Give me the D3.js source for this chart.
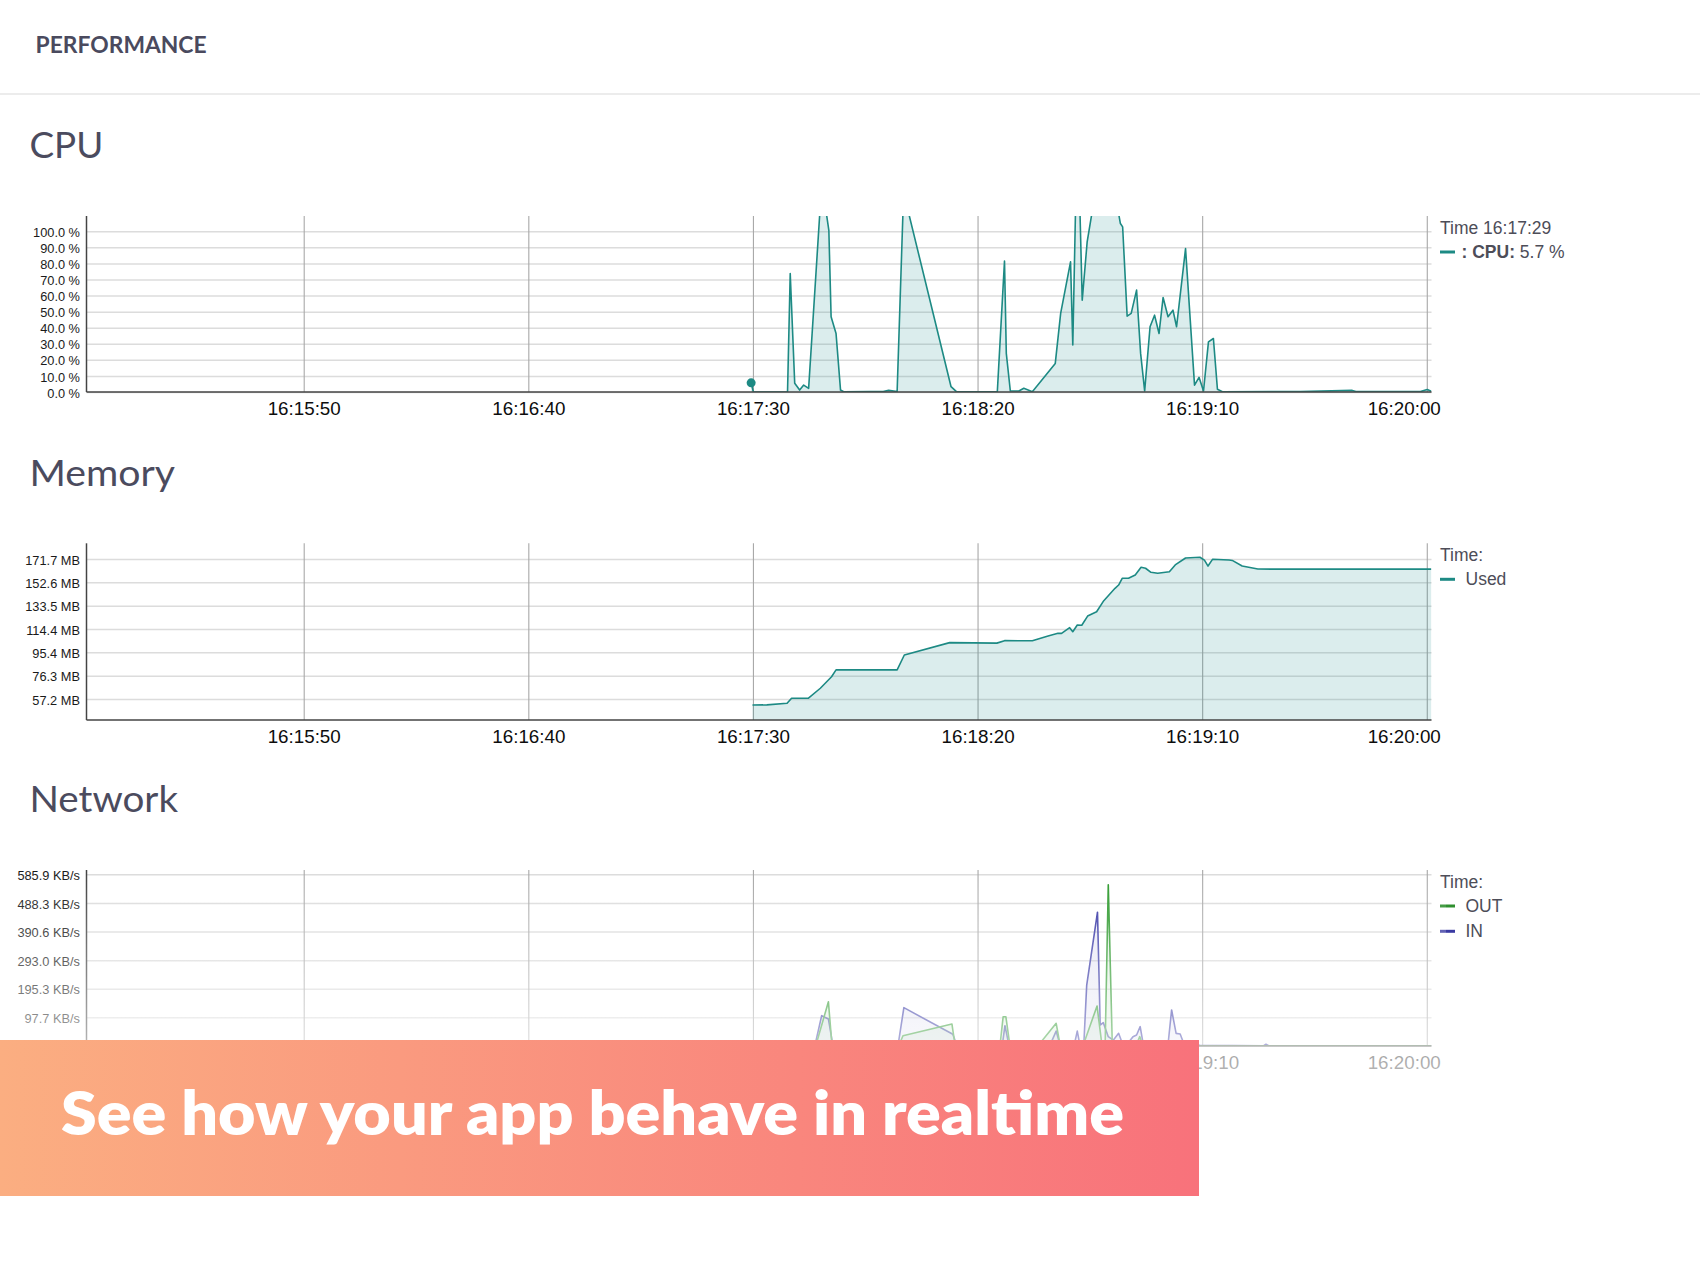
<!DOCTYPE html>
<html><head><meta charset="utf-8">
<script src="https://cdn.jsdelivr.net/npm/d3@7"></script>
<style>body{margin:0;background:#fff;} svg{display:block}</style>
</head><body><svg id="c" width="1700" height="1275"></svg>
<script>
// ---------- data (time = seconds after 16:15:00) ----------
const timeTickLabels = ["16:15:50","16:16:40","16:17:30","16:18:20","16:19:10","16:20:00"];
const cpuTicks = [0,10,20,30,40,50,60,70,80,90,100];
const memTicksMB = [57.2,76.3,95.4,114.4,133.5,152.6,171.7];
const netTicksKB = [97.7,195.3,293.0,390.6,488.3,585.9];

const cpuSec = [149.6,150.1,157.7,158.3,159.3,160.4,161.3,162.4,164.9,166.3,166.9,167.4,168.5,169.5,170.2,176.1,179.0,180.2,182.1,183.4,184.6,194.1,195.3,204.4,206.0,206.4,207.3,209.2,210.3,212.2,217.3,218.5,220.7,221.2,221.8,222.8,223.3,224.4,225.5,227.4,229.6,231.4,231.8,232.3,233.3,234.2,235.4,236.3,237.2,238.4,239.4,240.4,241.3,242.4,243.5,244.3,246.3,248.3,249.3,250.3,251.4,252.5,253.4,254.5,271.9,283.4,284.2,298.6,300.1,301.0];
const cpuPct = [5.7,0,0,73.7,5.4,1.2,4.3,2.3,112,112,100.6,46.8,36.4,1.2,0.2,0.3,0.3,1.0,0.3,112,112,3.3,0.2,0.2,81.4,24,0.6,0.6,2.3,0.2,17.8,48.9,81,29.2,112,112,57.1,93.4,112,115,118,111,104.8,102.7,47.2,48.9,63.4,24,0.6,40.6,47.8,36.4,58.8,46.8,50.9,40.6,89.2,4.3,9.1,0.6,31.2,33.3,1.7,0.2,0.3,1.0,0.3,0.3,1.5,0.5];

const memSec = [149.9,153.1,157.6,158.6,162.3,165.0,167.5,168.5,182.1,183.7,193.8,204.3,206.0,212.2,215.7,217.9,218.7,220.5,221.2,222.2,223.2,224.5,226.5,228.1,230.6,231.4,232.2,233.6,235.1,236.4,237.4,238.6,240.1,242.7,244.0,246.3,249.5,250.5,251.3,252.3,256.0,256.7,258.9,262.4,265.4,301.0];
const memUsedMB = [52.3,52.4,53.7,57.8,57.8,66.0,75.4,81.0,81.0,93.2,103.3,102.9,104.9,104.8,108.7,110.9,110.9,115.5,112.2,117.7,117.5,125.0,128.5,137.6,147.7,150.4,155.9,155.9,158.6,164.9,164.1,160.8,160.0,161.3,166.8,172.5,173.1,170.8,165.9,171.4,170.8,170.5,165.9,163.5,163.4,163.4];

const netInSec = [149.1,163.8,165.3,166.8,167.8,182.3,183.6,194.5,195.4,205.5,206.1,207.0,216.1,217.5,218.4,221.5,222.2,222.8,223.7,224.3,226.7,227.3,228.0,229.1,230.2,231.4,232.2,233.5,234.6,235.4,236.2,236.9,242.4,243.2,244.2,245.1,246.0,249.5,263.6,264.2,264.9,301.0];
const netInKB = [0,2,103.5,92.2,2,2,130.8,40,2,2,69.3,2,2,51,2,2,51,2,20,208,456.6,71.7,79.6,31.8,20,43.4,10,10,31.8,37.5,66,5,5,123,43,41,5,2,0.5,5.8,0.5,0.5];
const netOutSec = [149.1,164.0,166.8,167.6,182.5,183.4,194.3,195.0,205.0,205.7,206.3,207.2,213.5,217.5,218.4,223.5,226.6,227.7,228.4,229.1,230.0,235.3,236.1,236.8,243.3,249.5,301.0];
const netOutKB = [0,2,151,2,2,35,75,2,2,100,100,2,2,77.5,2,2,136.6,2,2,550,2,2,32,2,10,0.5,0.5];

// ---------- helpers ----------
const base = new Date(2000,0,1,16,15,0);
const toDate = s => new Date(base.getTime() + s*1000);
const parseT = d3.timeParse("%H:%M:%S");
const tickDates = timeTickLabels.map(s => { const p = parseT(s); return new Date(2000,0,1,p.getHours(),p.getMinutes(),p.getSeconds()); });
const zip = (a,b) => a.map((t,i)=>({t:toDate(t), v:b[i]}));

const svg = d3.select('#c');
const defs = svg.append('defs');
const X0 = 86.5, X1 = 1431.5;
const x = d3.scaleTime().domain([toDate(1.65), toDate(301.05)]).range([X0, X1]);

const TEAL = '#1d8a84';
const AXFONT = '"Liberation Sans", Arial, Helvetica, sans-serif';
const TITLEFONT = 'Lato, "Open Sans", sans-serif';

// header
svg.append('text').attr('x',35.6).attr('y',53.3).text('PERFORMANCE')
  .attr('font-family',TITLEFONT).attr('font-weight',700).attr('font-size',22)
  .attr('fill','#4a4a5e').attr('textLength',171).attr('lengthAdjust','spacingAndGlyphs');
svg.append('line').attr('x1',0).attr('x2',1700).attr('y1',94).attr('y2',94)
  .attr('stroke','#ececec').attr('stroke-width',2);

function panel(cfg){
  const {top,bottom,title,titleW,yDomain,yTicks,fmt,id} = cfg;
  const y = d3.scaleLinear().domain(yDomain).range([bottom, top]);
  svg.append('text').attr('x',29.5).attr('y',top-57.7).text(title)
    .attr('font-family',TITLEFONT).attr('font-size',37.5).attr('fill','#4b4b5e')
    .attr('textLength',titleW).attr('lengthAdjust','spacingAndGlyphs');

  // y axis with horizontal gridlines
  const gy = svg.append('g').attr('transform',`translate(${X0},0)`)
    .call(d3.axisLeft(y).tickValues(yTicks).tickFormat(fmt).tickSize(-(X1-X0)).tickSizeOuter(0).tickPadding(6.5));
  gy.selectAll('.tick line').attr('stroke','#dcdcdc').attr('stroke-width',1.5);
  gy.selectAll('.tick text').attr('font-family',AXFONT).attr('font-size',12.8).attr('fill','#1a1a1a').attr('dy','0.4em');
  gy.select('.domain').remove();

  // x axis with vertical gridlines
  const gx = svg.append('g').attr('transform',`translate(0,${bottom})`)
    .call(d3.axisBottom(x).tickValues(tickDates).tickFormat(d3.timeFormat('%H:%M:%S'))
      .tickSize(-(bottom-top)).tickSizeOuter(0).tickPadding(9.8));
  gx.selectAll('.tick line').attr('stroke','#a8a8a8').attr('stroke-width',1.1);
  gx.selectAll('.tick text').attr('font-family',AXFONT).attr('font-size',18.8).attr('fill','#0d0d0d');
  // last label is kept inside the chart: anchored at its end
  gx.selectAll('.tick text').filter((d,i,n)=>i===n.length-1)
    .attr('text-anchor','end').attr('x',13.5);
  gx.select('.domain').remove();

  defs.append('clipPath').attr('id',id).append('rect')
    .attr('x',X0).attr('y',top).attr('width',X1-X0).attr('height',bottom-top);
  const plot = svg.append('g').attr('clip-path',`url(#${id})`);

  // axis lines
  svg.append('line').attr('x1',X0).attr('x2',X0).attr('y1',top).attr('y2',bottom)
    .attr('stroke','#444').attr('stroke-width',1.5);
  svg.append('line').attr('x1',X0).attr('x2',X1).attr('y1',bottom).attr('y2',bottom)
    .attr('stroke','#444').attr('stroke-width',1.5);
  return {y, plot};
}

function drawSeries(p, data, y0, stroke, fill){
  const area = d3.area().x(d=>x(d.t)).y0(y0).y1(d=>p.y(d.v));
  const line = d3.line().x(d=>x(d.t)).y(d=>p.y(d.v));
  p.plot.append('path').datum(data).attr('d',area).attr('fill',fill);
  p.plot.append('path').datum(data).attr('d',line).attr('fill','none')
    .attr('stroke',stroke).attr('stroke-width',1.6).attr('stroke-linejoin','round');
}

function legend(top, titleText, items){
  const lg = svg.append('g').attr('font-family',AXFONT).attr('font-size',17.5).attr('fill','#4d4d58');
  lg.append('text').attr('x',1440).attr('y',top+17.5).text(titleText);
  items.forEach((it,i)=>{
    const yy = top + 36 + i*25.3;
    lg.append('line').attr('x1',1440).attr('x2',1455).attr('y1',yy).attr('y2',yy)
      .attr('stroke',it.color).attr('stroke-width',3);
    const t = lg.append('text').attr('x',it.x).attr('y',yy+6);
    if (it.bold) t.append('tspan').attr('font-weight',700).text(it.bold);
    t.append('tspan').text(it.label);
  });
}

// ---------- CPU ----------
const cpu = panel({top:216, bottom:392, title:'CPU', titleW:73.8, yDomain:[0,109.5], yTicks:cpuTicks,
  fmt:d=>d3.format('.1f')(d)+' %', id:'clipCpu'});
const cpuData = zip(cpuSec, cpuPct);
drawSeries(cpu, cpuData, cpu.y(0), TEAL, 'rgba(0,128,128,0.14)');
svg.append('circle').attr('cx',x(toDate(cpuSec[0]))).attr('cy',cpu.y(cpuPct[0])).attr('r',4.5).attr('fill',TEAL);
legend(216, 'Time 16:17:29', [{color:TEAL, x:1461.5, bold:': CPU:', label:' 5.7 %'}]);

// ---------- Memory ----------
const mem = panel({top:543.3, bottom:720, title:'Memory', titleW:145.5, yDomain:[40.05,184.5], yTicks:memTicksMB,
  fmt:d=>d3.format('.1f')(d)+' MB', id:'clipMem'});
drawSeries(mem, zip(memSec, memUsedMB), 720, TEAL, 'rgba(0,128,128,0.14)');
legend(543.3, 'Time:', [{color:TEAL, x:1465.5, label:'Used'}]);

// ---------- Network ----------
const net = panel({top:870, bottom:1046, title:'Network', titleW:148.5, yDomain:[0,600.6], yTicks:netTicksKB,
  fmt:d=>d3.format('.1f')(d)+' KB/s', id:'clipNet'});
drawSeries(net, zip(netInSec, netInKB), net.y(0), '#3838a6', 'rgba(56,56,166,0.10)');
drawSeries(net, zip(netOutSec, netOutKB), net.y(0), '#2e9a2e', 'rgba(46,154,46,0.12)');
legend(870, 'Time:', [{color:'#2e8f2e', x:1465.5, label:'OUT'},{color:'#3a3aa2', x:1465.5, label:'IN'}]);

// fade-out overlay on the lower network area
const fg = defs.append('linearGradient').attr('id','fade').attr('gradientUnits','userSpaceOnUse')
  .attr('x1',0).attr('x2',0).attr('y1',872).attr('y2',1160);
fg.append('stop').attr('offset',0).attr('stop-color','#fff').attr('stop-opacity',0);
fg.append('stop').attr('offset',1).attr('stop-color','#fff').attr('stop-opacity',1);
svg.append('rect').attr('x',0).attr('y',872).attr('width',1446).attr('height',403).attr('fill','url(#fade)');

// banner
const bg = defs.append('linearGradient').attr('id','banner').attr('x1',0).attr('x2',1).attr('y1',0).attr('y2',0);
bg.append('stop').attr('offset',0).attr('stop-color','#fbae81');
bg.append('stop').attr('offset',1).attr('stop-color','#f8727b');
svg.append('rect').attr('x',0).attr('y',1040).attr('width',1199).attr('height',156).attr('fill','url(#banner)');
svg.append('text').attr('x',61).attr('y',1134.5).text('See how your app behave in realtime')
  .attr('font-family',TITLEFONT).attr('font-weight',800).attr('font-size',61).attr('fill','#fff')
  .attr('textLength',1063).attr('lengthAdjust','spacingAndGlyphs');
</script></body></html>
